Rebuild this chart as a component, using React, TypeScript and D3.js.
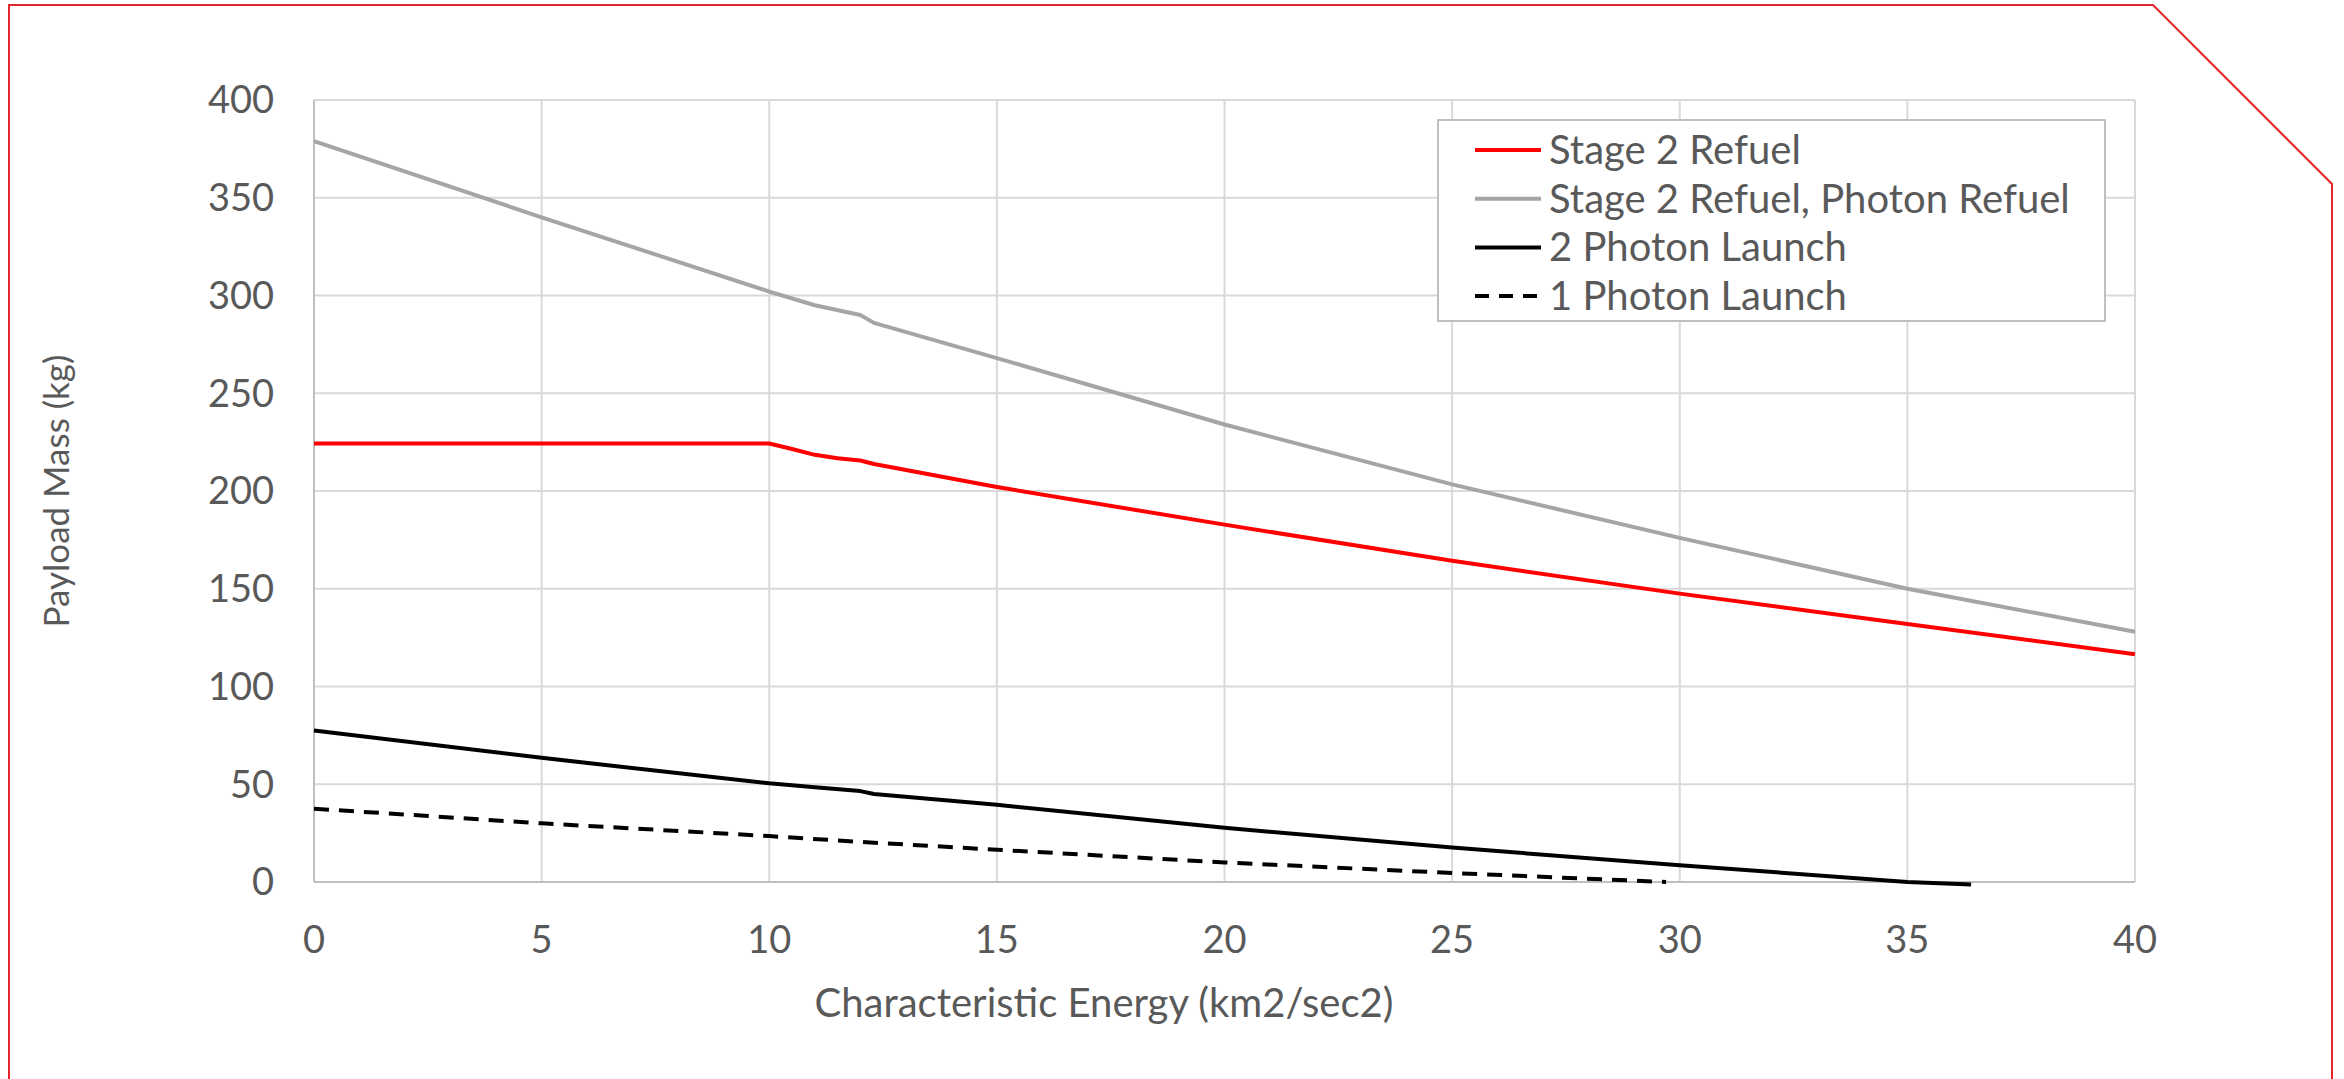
import React, { useEffect, useRef } from 'react';
import * as d3 from 'd3';

// characteristic energy (km2/sec2) sample points
const energyRed = [0, 5, 10, 10.5, 11, 11.5, 12, 12.3, 15, 20, 25, 30, 35, 40];
const stage2Refuel = [224.3, 224.3, 224.3, 221.5, 218.5, 216.8, 215.6, 213.8, 202, 182.8, 164.3, 147.5, 132, 116.5];

const energyGrey = [0, 5, 10, 11, 12, 12.3, 15, 20, 25, 30, 35, 40];
const stage2PhotonRefuel = [379, 340, 302, 295, 290, 286, 268, 234, 203.4, 176, 150, 128];

const energyTwoPhoton = [0, 5, 10, 11, 12, 12.3, 15, 20, 25, 30, 35, 36.4];
const twoPhotonLaunch = [77.5, 63.5, 50.5, 48.5, 46.5, 45, 39.5, 27.7, 17.6, 8.6, 0, -1.3];

const energyOnePhoton = [0, 5, 10, 12, 15, 20, 25, 29.7];
const onePhotonLaunch = [37.5, 30, 23.5, 20.5, 16.5, 10, 4.6, 0];

const xTicks = [0, 5, 10, 15, 20, 25, 30, 35, 40];
const yTicks = [0, 50, 100, 150, 200, 250, 300, 350, 400];

const seriesNames = ['Stage 2 Refuel', 'Stage 2 Refuel, Photon Refuel', '2 Photon Launch', '1 Photon Launch'];

const FONT = 'Lato, "Open Sans", sans-serif';
const TEXT = '#595959';

const App = () => {
    const svgRef = useRef<SVGSVGElement>(null);

    useEffect(() => {
        const width = 2344;
        const height = 1079;
        const left = 314, right = 2135, top = 100, bottom = 882;

        const svg = d3.select(svgRef.current)
            .attr('width', width)
            .attr('height', height)
            .style('position', 'absolute')
            .style('left', '0px')
            .style('top', '0px')
            .style('background', '#fff');

        svg.selectAll('*').remove();

        // outer red frame with the clipped corner
        svg.append('path')
            .attr('d', `M9,1085 L9,5 L2153,5 L2332,184 L2332,1085`)
            .attr('fill', 'none')
            .attr('stroke', '#e3262b')
            .attr('stroke-width', 2);

        const x = d3.scaleLinear().domain([0, 40]).range([left, right]);
        const y = d3.scaleLinear().domain([0, 400]).range([bottom, top]);

        // grid
        svg.append('g').selectAll('line.v')
            .data(xTicks.slice(1))
            .enter().append('line')
            .attr('x1', d => x(d)).attr('x2', d => x(d))
            .attr('y1', top).attr('y2', bottom)
            .attr('stroke', '#d9d9d9').attr('stroke-width', 2);

        svg.append('g').selectAll('line.h')
            .data(yTicks.slice(1))
            .enter().append('line')
            .attr('x1', left).attr('x2', right)
            .attr('y1', d => y(d)).attr('y2', d => y(d))
            .attr('stroke', '#d9d9d9').attr('stroke-width', 2);

        // axis lines
        svg.append('line')
            .attr('x1', left).attr('x2', left).attr('y1', top).attr('y2', bottom)
            .attr('stroke', '#bfbfbf').attr('stroke-width', 2);
        svg.append('line')
            .attr('x1', left).attr('x2', right).attr('y1', bottom).attr('y2', bottom)
            .attr('stroke', '#bfbfbf').attr('stroke-width', 2);

        // tick labels
        svg.append('g').selectAll('text')
            .data(yTicks)
            .enter().append('text')
            .attr('x', 274)
            .attr('y', d => y(d))
            .attr('dy', '0.35em')
            .attr('text-anchor', 'end')
            .attr('font-family', FONT)
            .attr('font-size', 38)
            .attr('fill', TEXT)
            .text(d => d);

        svg.append('g').selectAll('text')
            .data(xTicks)
            .enter().append('text')
            .attr('x', d => x(d))
            .attr('y', 940)
            .attr('dy', '0.35em')
            .attr('text-anchor', 'middle')
            .attr('font-family', FONT)
            .attr('font-size', 38)
            .attr('fill', TEXT)
            .text(d => d);

        // axis titles
        svg.append('text')
            .attr('x', 1104)
            .attr('y', 1003)
            .attr('dy', '0.35em')
            .attr('text-anchor', 'middle')
            .attr('font-family', FONT)
            .attr('font-size', 40)
            .attr('fill', TEXT)
            .text('Characteristic Energy (km2/sec2)');

        svg.append('text')
            .attr('transform', `translate(57, ${(top + bottom) / 2}) rotate(-90)`)
            .attr('dy', '0.35em')
            .attr('text-anchor', 'middle')
            .attr('font-family', FONT)
            .attr('font-size', 35)
            .attr('fill', TEXT)
            .text('Payload Mass (kg)');

        const line = d3.line<[number, number]>()
            .x(d => x(d[0]))
            .y(d => y(d[1]));

        const series = [
            { xs: energyGrey, ys: stage2PhotonRefuel, color: '#a5a5a5', dash: null },
            { xs: energyRed, ys: stage2Refuel, color: '#ff0000', dash: null },
            { xs: energyTwoPhoton, ys: twoPhotonLaunch, color: '#000000', dash: null },
            { xs: energyOnePhoton, ys: onePhotonLaunch, color: '#000000', dash: '15 10' },
        ];

        series.forEach(s => {
            const pts = s.xs.map((v, i) => [v, s.ys[i]] as [number, number]);
            svg.append('path')
                .attr('d', line(pts))
                .attr('fill', 'none')
                .attr('stroke', s.color)
                .attr('stroke-width', 4)
                .attr('stroke-linejoin', 'round')
                .attr('stroke-dasharray', s.dash);
        });

        // legend
        svg.append('rect')
            .attr('x', 1438).attr('y', 120)
            .attr('width', 667).attr('height', 201)
            .attr('fill', '#fff')
            .attr('stroke', '#bfbfbf').attr('stroke-width', 2);

        const legendStyle = [
            { color: '#ff0000', dash: null },
            { color: '#a5a5a5', dash: null },
            { color: '#000000', dash: null },
            { color: '#000000', dash: '14 10' },
        ];

        const legendG = svg.append('g').selectAll('g')
            .data(seriesNames)
            .enter().append('g')
            .attr('transform', (d, i) => `translate(1475, ${150 + i * 48.7})`);

        legendG.append('line')
            .attr('x1', 0).attr('x2', 66)
            .attr('stroke', (d, i) => legendStyle[i].color)
            .attr('stroke-width', 4)
            .attr('stroke-dasharray', (d, i) => legendStyle[i].dash);

        legendG.append('text')
            .attr('x', 74)
            .attr('dy', '0.35em')
            .attr('font-family', FONT)
            .attr('font-size', 40)
            .attr('fill', TEXT)
            .text(d => d);
    }, []);

    return <svg ref={svgRef}></svg>;
};

export default App;
